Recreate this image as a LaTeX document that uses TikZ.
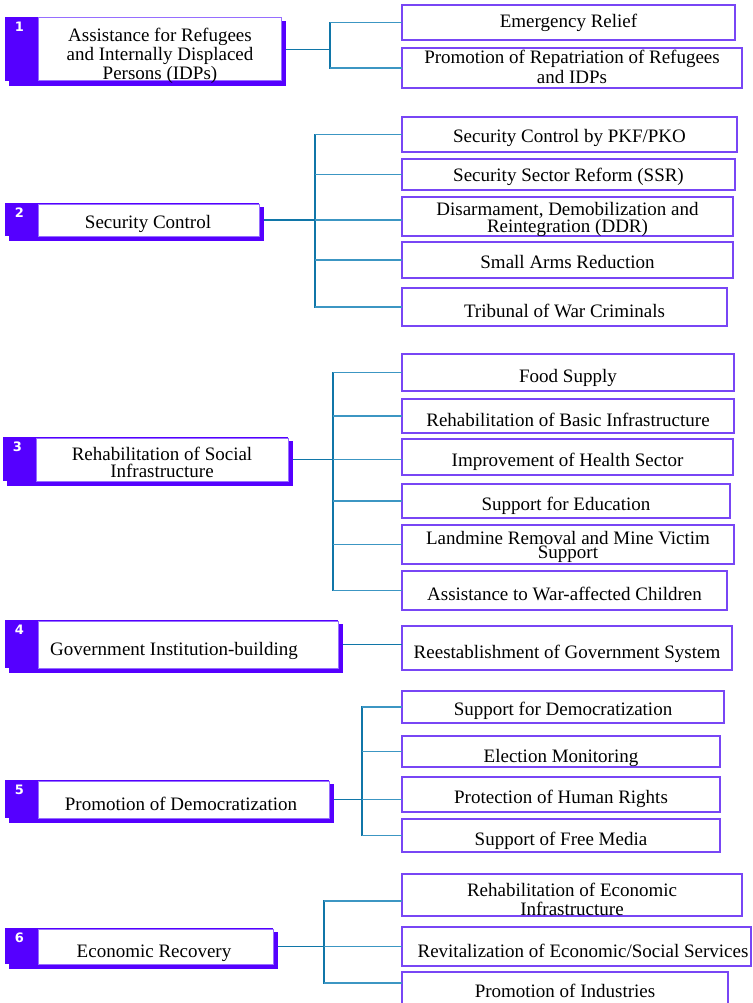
\documentclass[tikz,border=0pt]{standalone}
\usepackage{fontspec}
\setmainfont{Liberation Serif}
\newfontfamily\numfont{DejaVu Sans}
\definecolor{tabcol}{RGB}{85,0,255}
\definecolor{wborder}{RGB}{150,110,255}
\definecolor{rborder}{RGB}{120,70,245}
\definecolor{maincol}{RGB}{16,118,168}
\definecolor{branchcol}{RGB}{60,150,195}
\newcommand\ml[2]{\vtop{\baselineskip=#1\relax\lineskiplimit=-\maxdimen\lineskip=0pt\halign{\hfil##\hfil\cr#2\crcr}}}
\newcommand\leftgroup[6]{%
  \node[shadowbox, anchor=north west, minimum width={#4+5-(#2+4)}, minimum height={#5+5-(#3+4)}] (Ls#1) at ({#2+4},{#3+4}) {};
  \node[tabbox, anchor=north west, minimum width={#4-#2}, minimum height={#5-#3}] (Lt#1) at (#2,#3) {};
  \node[whitebox, anchor=north west, minimum width={#4-#2-33}, minimum height={#5-#3-1}] (L#1) at ({#2+33},{#3+1}) {};
  \node[numtxt] (N#1) at ({#2+14.5},{#3+10}) {#6};}
\newcommand\rightbox[7]{%
  \node[rbox, minimum width={#4-#2}, minimum height={#5-#3}] (#1) at ({(#2+#4)/2},{(#3+#5)/2}) {};
  \node[txt] (#1t) at ({(#2+#4)/2},#6) {#7};}
\begin{document}
\begin{tikzpicture}[x=1pt,y=-1pt,
  shadowbox/.style={rectangle, fill=tabcol, inner sep=0pt, outer sep=0pt},
  tabbox/.style={rectangle, fill=tabcol, inner sep=0pt, outer sep=0pt},
  whitebox/.style={rectangle, fill=white, draw=wborder, line width=1pt, inner sep=0pt, outer sep=0pt},
  rbox/.style={rectangle, fill=white, draw=rborder, line width=1.4pt, inner sep=0pt, outer sep=0pt},
  numtxt/.style={text=white, font=\numfont\bfseries\fontsize{13}{13}\selectfont, inner sep=0pt},
  txt/.style={anchor=base, inner sep=0pt, font=\fontsize{19}{19}\selectfont},
  mainline/.style={draw=maincol, line width=1.4pt},
  trunk/.style={draw=maincol, line width=1.2pt, line cap=rect},
  branch/.style={draw=branchcol, line width=1.1pt}]
\useasboundingbox (0,0) rectangle (752,1003);

% ---------- Section 1 ----------
\leftgroup{1}{5}{17}{281}{81}{1}
\node[txt] (L1t) at (160,42) {\ml{19pt}{Assistance for Refugees\cr and Internally Displaced\cr Persons (IDPs)}};
\rightbox{r11}{402}{5}{735}{40}{28}{Emergency Relief}
\rightbox{r12}{402}{48}{742}{88}{64}{\ml{20pt}{Promotion of Repatriation of Refugees\cr and IDPs}}
\coordinate (T1) at (330,0);
\draw[mainline] (Ls1.east |- L1.center) -- (T1 |- L1.center);
\draw[trunk] (T1 |- r11.west) -- (T1 |- r12.west);
\draw[branch] (T1 |- r11.west) -- (r11.west);
\draw[branch] (T1 |- r12.west) -- (r12.west);

% ---------- Section 2 ----------
\leftgroup{2}{5}{203}{259}{236}{2}
\node[txt] (L2t) at (148,228) {Security Control};
\rightbox{r21}{402}{117}{737}{152}{143}{Security Control by PKF/PKO}
\rightbox{r22}{402}{159}{735}{190}{182}{Security Sector Reform (SSR)}
\rightbox{r23}{402}{197}{733}{236}{215}{\ml{17pt}{Disarmament, Demobilization and\cr Reintegration (DDR)}}
\rightbox{r24}{402}{242}{733}{278}{268}{Small Arms Reduction}
\rightbox{r25}{402}{288}{727}{326}{317}{Tribunal of War Criminals}
\coordinate (T2) at (315,0);
\draw[mainline] (Ls2.east |- L2.center) -- (T2 |- L2.center);
\draw[trunk] (T2 |- r21.west) -- (T2 |- r25.west);
\draw[branch] (T2 |- r21.west) -- (r21.west);
\draw[branch] (T2 |- r22.west) -- (r22.west);
\draw[branch] (T2 |- L2.center) -- (r23.west |- L2.center);
\draw[branch] (T2 |- r24.west) -- (r24.west);
\draw[branch] (T2 |- r25.west) -- (r25.west);

% ---------- Section 3 ----------
\leftgroup{3}{3}{437}{288}{481}{3}
\node[txt] (L3t) at (162,460) {\ml{17pt}{Rehabilitation of Social\cr Infrastructure}};
\rightbox{r31}{402}{354}{734}{391}{382}{Food Supply}
\rightbox{r32}{402}{399}{734}{433}{426}{Rehabilitation of Basic Infrastructure}
\rightbox{r33}{402}{439}{733}{475}{466}{Improvement of Health Sector}
\rightbox{r34}{402}{484}{730}{518}{510}{Support for Education}
\rightbox{r35}{402}{525}{734}{564}{544}{\ml{14pt}{Landmine Removal and Mine Victim\cr Support}}
\rightbox{r36}{402}{571}{727}{610}{600}{Assistance to War-affected Children}
\coordinate (T3) at (333,0);
\draw[mainline] (Ls3.east |- L3.center) -- (T3 |- L3.center);
\draw[trunk] (T3 |- r31.west) -- (T3 |- r36.west);
\draw[branch] (T3 |- r31.west) -- (r31.west);
\draw[branch] (T3 |- r32.west) -- (r32.west);
\draw[branch] (T3 |- L3.center) -- (r33.west |- L3.center);
\draw[branch] (T3 |- r34.west) -- (r34.west);
\draw[branch] (T3 |- r35.west) -- (r35.west);
\draw[branch] (T3 |- r36.west) -- (r36.west);

% ---------- Section 4 ----------
\leftgroup{4}{5}{620}{338}{668}{4}
\node[txt] (L4t) at (174,655) {Government Institution-building};
\rightbox{r41}{402}{626}{732}{670}{658}{Reestablishment of Government System}
\draw[mainline] (Ls4.east |- L4.center) -- (r41.west |- L4.center);

% ---------- Section 5 ----------
\leftgroup{5}{5}{780}{329}{818}{5}
\node[txt] (L5t) at (181,810) {Promotion of Democratization};
\rightbox{r51}{402}{691}{724}{723}{715}{Support for Democratization}
\rightbox{r52}{402}{736}{720}{767}{762}{Election Monitoring}
\rightbox{r53}{402}{777}{720}{812}{803}{Protection of Human Rights}
\rightbox{r54}{402}{819}{720}{852}{845}{Support of Free Media}
\coordinate (T5) at (362,0);
\draw[mainline] (Ls5.east |- L5.center) -- (T5 |- L5.center);
\draw[trunk] (T5 |- r51.west) -- (T5 |- r54.west);
\draw[branch] (T5 |- r51.west) -- (r51.west);
\draw[branch] (T5 |- r52.west) -- (r52.west);
\draw[branch] (T5 |- L5.center) -- (r53.west |- L5.center);
\draw[branch] (T5 |- r54.west) -- (r54.west);

% ---------- Section 6 ----------
\leftgroup{6}{5}{928}{273}{964}{6}
\node[txt] (L6t) at (154,957) {Economic Recovery};
\rightbox{r61}{402}{874}{742}{916}{896}{\ml{19pt}{Rehabilitation of Economic\cr Infrastructure}}
\node[rbox, minimum width=349, minimum height=39] (r62) at (576.5,946.5) {};
\node[txt] (r62t) at (583,957) {Revitalization of Economic/Social Services};
\rightbox{r63}{402}{972}{728}{1012}{997}{Promotion of Industries}
\coordinate (T6) at (324,0);
\coordinate (b61) at (0,901);
\coordinate (b63) at (0,983);
\draw[mainline] (Ls6.east |- L6.center) -- (T6 |- L6.center);
\draw[trunk] (T6 |- b61) -- (T6 |- b63);
\draw[branch] (T6 |- b61) -- (r61.west |- b61);
\draw[branch] (T6 |- L6.center) -- (r62.west |- L6.center);
\draw[branch] (T6 |- b63) -- (r63.west |- b63);
\end{tikzpicture}
\end{document}
